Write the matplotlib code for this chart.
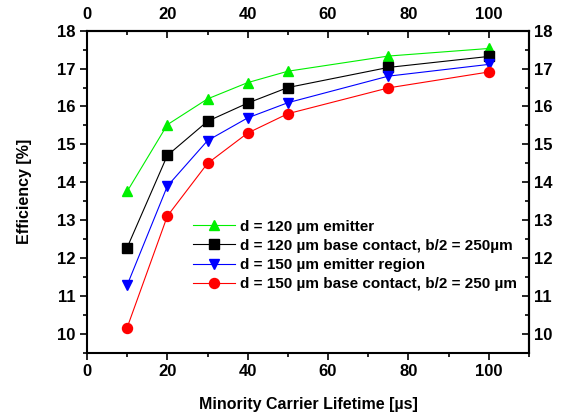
import numpy as np
import matplotlib
matplotlib.use('Agg')
from matplotlib import pyplot as plt
from matplotlib.ticker import MultipleLocator

lifetime = [10, 20, 30, 40, 50, 75, 100]
eff_120_emitter = [13.76, 15.52, 16.2, 16.63, 16.93, 17.33, 17.53]
eff_120_base = [12.28, 14.71, 15.61, 16.09, 16.5, 17.03, 17.32]
eff_150_emitter = [11.29, 13.9, 15.1, 15.7, 16.1, 16.8, 17.11]
eff_150_base = [10.17, 13.11, 14.5, 15.3, 15.81, 16.49, 16.91]
labels = ['d = 120 \u00b5m emitter',
          'd = 120 \u00b5m base contact, b/2 = 250\u00b5m',
          'd = 150 \u00b5m emitter region',
          'd = 150 \u00b5m base contact, b/2 = 250 \u00b5m']

plt.rcParams['font.family'] = ['Liberation Sans', 'DejaVu Sans']
plt.rcParams['font.weight'] = 'bold'

fig = plt.figure(figsize=(5.63, 4.17), dpi=100)
ax = fig.add_axes([0.1545, 0.1535, 0.785, 0.773])

ax.plot(lifetime, eff_120_emitter, color='#00f000', lw=0.8, marker='^', ms=7.2, label=labels[0])
ax.plot(lifetime, eff_120_base, color='black', lw=0.8, marker='s', ms=6.5, label=labels[1])
ax.plot(lifetime, eff_150_emitter, color='blue', lw=0.8, marker='v', ms=7.2, label=labels[2])
ax.plot(lifetime, eff_150_base, color='red', lw=0.8, marker='o', ms=7.2, label=labels[3])

ax.set_xlim(0, 110)
ax.set_ylim(9.5, 18)
ax.xaxis.set_major_locator(MultipleLocator(20))
ax.xaxis.set_minor_locator(MultipleLocator(10))
ax.yaxis.set_major_locator(MultipleLocator(1))
ax.yaxis.set_minor_locator(MultipleLocator(0.5))
ax.tick_params(which='major', direction='out', length=5, width=1.2, labelsize=12)
ax.tick_params(which='minor', direction='out', length=2.8, width=1.2)
ax.tick_params(axis='x', which='major', pad=3)
ax.tick_params(axis='y', which='major', pad=3.5)
for s in ax.spines.values():
    s.set_linewidth(1.5)

# mirrored axes on top/right, ticks pointing inward
top = ax.secondary_xaxis('top')
top.xaxis.set_major_locator(MultipleLocator(20))
top.xaxis.set_minor_locator(MultipleLocator(10))
top.tick_params(which='major', direction='in', length=5, width=1.2, labelsize=12, pad=6)
top.tick_params(which='minor', direction='in', length=2.8, width=1.2)
right = ax.secondary_yaxis('right')
right.yaxis.set_major_locator(MultipleLocator(1))
right.yaxis.set_minor_locator(MultipleLocator(0.5))
right.tick_params(which='major', direction='in', length=5, width=1.2, labelsize=12, pad=4)
right.tick_params(which='minor', direction='in', length=2.8, width=1.2)
top.spines['top'].set_linewidth(1.5)
right.spines['right'].set_linewidth(1.5)

ax.set_xlabel('Minority Carrier Lifetime [\u00b5s]', fontsize=11.5, fontweight='bold', labelpad=13)
ax.set_ylabel('Efficiency [%]', fontsize=11.5, fontweight='bold', labelpad=18)

ax.legend(loc='upper left', bbox_to_anchor=(0.222, 0.437), frameon=False, fontsize=11,
          handlelength=2.75, handletextpad=0.33, labelspacing=0.33, borderpad=0)

fig.savefig('out.png', dpi=100)
